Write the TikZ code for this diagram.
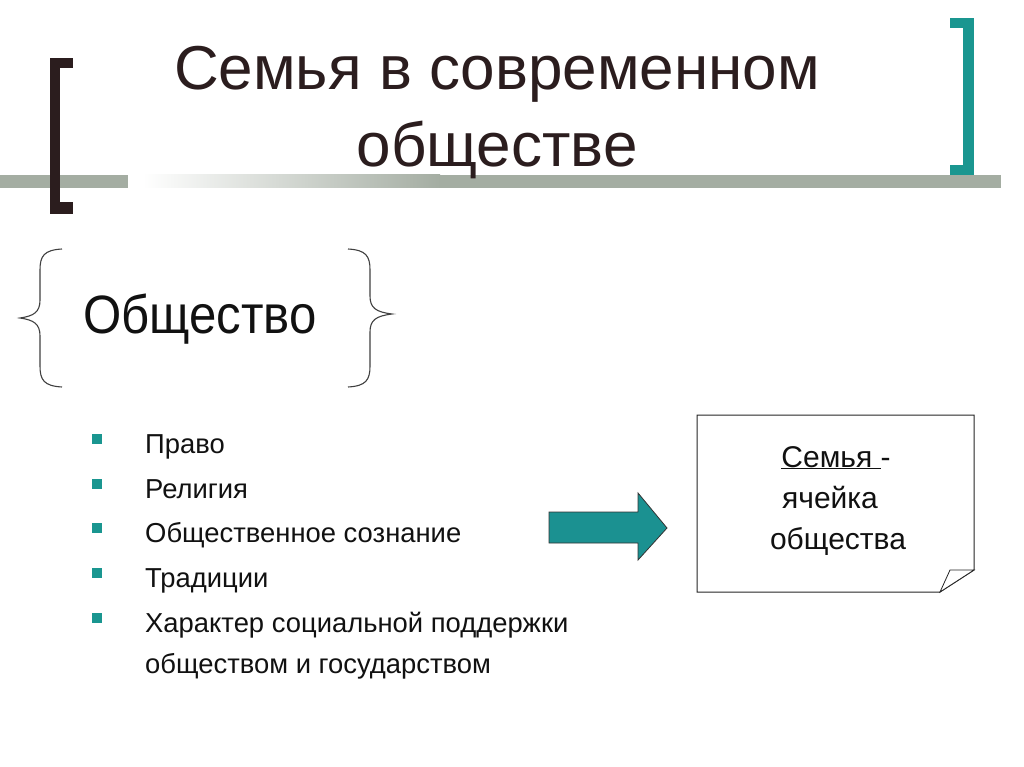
\documentclass[tikz,border=0pt]{standalone}
\usepackage{fontspec}
\setmainfont{Liberation Sans}
\newfontfamily\socfont[FakeStretch=0.91]{Liberation Sans}
\usetikzlibrary{shapes.arrows}
\definecolor{darkbr}{HTML}{2B1D1E}
\definecolor{tealb}{HTML}{1A9690}
\definecolor{tealarrow}{HTML}{1B9191}
\definecolor{rulegray}{HTML}{A4ADA2}
\definecolor{txt}{HTML}{111111}
\tikzset{
  titletext/.style={font=\fontsize{62}{70}\selectfont, text=darkbr, inner sep=0pt},
  bodytext/.style={font=\fontsize{27.4}{31}\selectfont, text=txt, inner sep=0pt, anchor=base west},
  bulletsq/.style={fill=tealb, minimum size=10pt, inner sep=0pt, draw=none},
  bracebr/.style={draw=black!75, line width=1.1pt},
  boxtext/.style={font=\fontsize{30}{40}\selectfont, text=txt, inner sep=0pt, anchor=base},
}
\begin{document}
\begin{tikzpicture}[x=1pt,y=-1pt]
\useasboundingbox (0,0) rectangle (1024,767);
\fill[white] (0,0) rectangle (1024,767);
% grey rules
\fill[rulegray] (0,175) rectangle (128,188);
\shade[left color=white, right color=rulegray] (143,175) rectangle (440,188);
\fill[rulegray] (439,175) rectangle (1001,188);
% left bracket
\fill[darkbr] (50,58) rectangle (60,214);
\fill[darkbr] (50,58) rectangle (73,68);
\fill[darkbr] (50,202) rectangle (73,214);
% right bracket
\fill[tealb] (963,18) rectangle (974,175);
\fill[tealb] (950,18) rectangle (974,28);
\fill[tealb] (950,165) rectangle (974,175);
% title
\node[titletext, anchor=base] (t1) at (497,90) {Семья в современном};
\node[titletext, anchor=base] (t2) at (497,167) {обществе};
% braces
\draw[bracebr] (62,249) .. controls (44,250) and (40,256) .. (40,270)
  -- (40,300) .. controls (40,312) and (34,316) .. (20,318)
  .. controls (34,320) and (40,324) .. (40,336)
  -- (40,366) .. controls (40,380) and (44,386) .. (62,387);
\draw[bracebr] (348,249) .. controls (366,250) and (370,256) .. (370,270)
  -- (370,296) .. controls (370,308) and (376,312) .. (392,314)
  .. controls (376,316) and (370,320) .. (370,332)
  -- (370,366) .. controls (370,380) and (366,386) .. (348,387);
\node[font=\socfont\fontsize{54}{60}\selectfont, text=txt, inner sep=0pt, anchor=base west] (soc) at (83,333) {Общество};
% bullets
\node[bulletsq] (b1) at (97,439) {};
\node[bulletsq] (b2) at (97,484) {};
\node[bulletsq] (b3) at (97,528) {};
\node[bulletsq] (b4) at (97,573) {};
\node[bulletsq] (b5) at (97,618) {};
\node[bodytext] (l1) at (145,453) {Право};
\node[bodytext] (l2) at (145,498) {Религия};
\node[bodytext] (l3) at (145,542) {Общественное сознание};
\node[bodytext] (l4) at (145,587) {Традиции};
\node[bodytext] (l5) at (145,632) {Характер социальной поддержки};
\node[bodytext] (l6) at (145,673) {обществом и государством};
% block arrow
\filldraw[fill=tealarrow, draw=black!80, line width=0.8pt]
  (549,512) -- (638,512) -- (638,493) -- (667,528) -- (638,560) -- (638,543) -- (549,543) -- cycle;
% box with folded corner
\draw[black!85, line width=1pt, fill=white]
  (697,415) -- (974,415) -- (974,570) -- (940,592) -- (697,592) -- cycle;
\draw[black!85, line width=0.8pt, fill=white] (940,592) -- (950,570) -- (974,570) -- cycle;
\node[boxtext] (s1) at (836,467) {\underline{Семья }-};
\node[boxtext] (s2) at (830,508) {ячейка};
\node[boxtext] (s3) at (838,549) {общества};
\end{tikzpicture}
\end{document}
